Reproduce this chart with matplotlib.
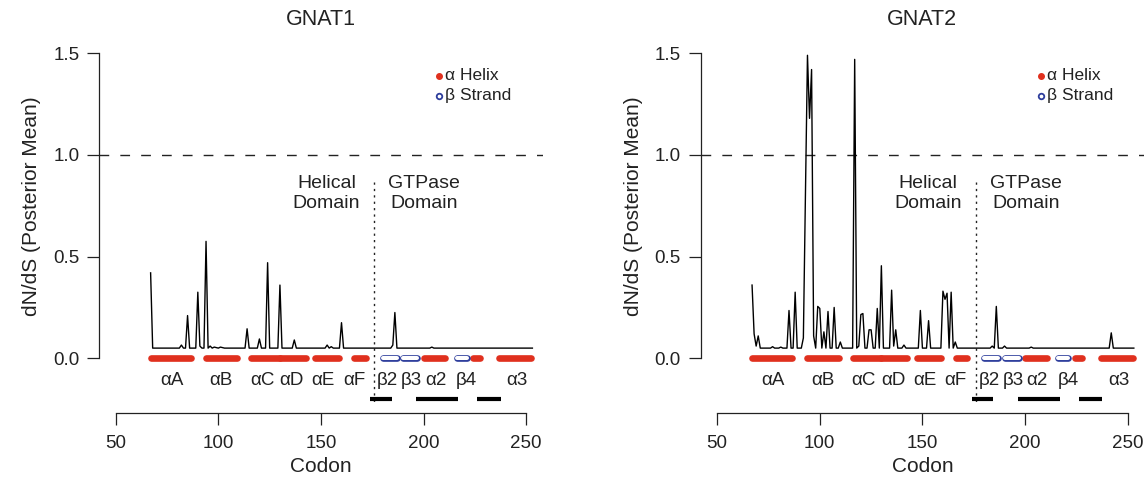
import matplotlib
matplotlib.use('Agg')
import matplotlib.pyplot as plt

plt.rcParams['font.family'] = ['Liberation Sans', 'DejaVu Sans']

# posterior mean dN/dS per codon (key points, baseline ~0.05)
gnat1_codon = [67, 68, 81, 82, 83, 84, 85, 86, 89, 90, 91, 92, 93, 94, 95, 96, 97, 98,
               100, 101, 103, 104, 113, 114, 115, 119, 120, 121, 123, 124, 125, 129, 130,
               131, 136, 137, 138, 152, 153, 154, 155, 156, 159, 160, 161, 184, 185, 186,
               187, 203, 204, 205, 253]
gnat1_dnds = [0.42, 0.05, 0.05, 0.065, 0.05, 0.05, 0.21, 0.05, 0.05, 0.325, 0.06, 0.05,
              0.05, 0.575, 0.05, 0.06, 0.05, 0.055, 0.05, 0.055, 0.05, 0.05, 0.05, 0.145,
              0.05, 0.05, 0.095, 0.05, 0.05, 0.47, 0.05, 0.05, 0.36, 0.05, 0.05, 0.09,
              0.05, 0.05, 0.065, 0.05, 0.057, 0.05, 0.05, 0.175, 0.05, 0.05, 0.065, 0.225,
              0.05, 0.05, 0.055, 0.05, 0.05]

gnat2_codon = [67, 68, 69, 70, 71, 76, 77, 78, 80, 81, 82, 84, 85, 86, 87, 88, 89, 91,
               92, 93, 94, 95, 96, 97, 98, 99, 100, 101, 102, 103, 104, 105, 106, 107, 108,
               109, 110, 111, 116, 117, 118, 119, 120, 121, 122, 123, 124, 125, 126, 127,
               128, 129, 130, 131, 134, 135, 136, 137, 138, 140, 141, 142, 148, 149, 150,
               152, 153, 154, 159, 160, 161, 162, 163, 164, 165, 166, 167, 183, 184, 185,
               186, 187, 189, 190, 191, 202, 203, 204, 241, 242, 243, 253]
gnat2_dnds = [0.36, 0.12, 0.06, 0.11, 0.05, 0.05, 0.057, 0.05, 0.05, 0.055, 0.05, 0.05,
              0.235, 0.05, 0.05, 0.325, 0.05, 0.05, 0.1, 0.8, 1.49, 1.18, 1.42, 0.11,
              0.05, 0.255, 0.245, 0.05, 0.13, 0.05, 0.23, 0.05, 0.05, 0.25, 0.05, 0.05,
              0.08, 0.05, 0.05, 1.47, 0.05, 0.06, 0.215, 0.22, 0.05, 0.05, 0.14, 0.14,
              0.05, 0.05, 0.245, 0.05, 0.455, 0.05, 0.05, 0.335, 0.06, 0.14, 0.05, 0.05,
              0.065, 0.05, 0.05, 0.235, 0.05, 0.05, 0.185, 0.05, 0.05, 0.33, 0.29, 0.32,
              0.05, 0.325, 0.05, 0.08, 0.05, 0.05, 0.06, 0.05, 0.255, 0.05, 0.05, 0.06,
              0.05, 0.05, 0.055, 0.05, 0.05, 0.125, 0.05, 0.05]

# secondary structure (codon ranges)
helix_start = [67.0, 94.0, 116.0, 130.0, 147.2, 166.2, 200.2, 224.3, 236.9]
helix_end = [86.5, 109.3, 130.0, 142.6, 159.0, 171.8, 210.5, 227.7, 252.5]
strand_start = [180.0, 190.2, 216.1]
strand_end = [186.9, 197.0, 221.0]

ss_labels = ['αA', 'αB', 'αC', 'αD', 'αE', 'αF', 'β2', 'β3', 'α2', 'β4', 'α3']
ss_label_pos = [77.3, 101.3, 121.4, 135.7, 151.1, 166.2, 182.5, 194.2, 206.0, 221.0, 245.6]

# black segments below the GTPase domain
seg_start = [174.0, 196.5, 226.1]
seg_end = [184.5, 216.9, 237.7]

domain_boundary = 176.0

RED = '#e0301e'
BLUE = '#2d3d9c'


def draw_panel(ax, title, codon, dnds):
    ax.set_xlim(42, 258)
    ax.set_ylim(-0.06, 1.56)

    for s in ['top', 'right']:
        ax.spines[s].set_visible(False)
    ax.spines['left'].set_bounds(0, 1.5)
    ax.spines['bottom'].set_bounds(50, 250)
    ax.spines['bottom'].set_position(('outward', 30.4))
    for s in ['left', 'bottom']:
        ax.spines[s].set_linewidth(0.9)
        ax.spines[s].set_color('#222222')

    ax.set_yticks([0, 0.5, 1.0, 1.5])
    ax.set_yticklabels(['0.0', '0.5', '1.0', '1.5'])
    ax.set_xticks([50, 100, 150, 200, 250])
    ax.tick_params(axis='both', length=8.8, width=0.9, color='#222222',
                   labelsize=13.5, labelcolor='#222222')
    ax.tick_params(axis='y', pad=5.5)
    ax.tick_params(axis='x', pad=7)

    ax.axhline(1.0, color='#222222', lw=1.0, ls=(0, (7, 8)), zorder=1)
    ax.plot(codon, dnds, color='black', lw=1.0, zorder=3)

    # domain divider
    ax.plot([domain_boundary, domain_boundary], [0.865, -0.23], color='#222222',
            lw=1.0, ls=(0, (1.6, 3.0)), clip_on=False, zorder=2)
    ax.text(152.6, 0.81, 'Helical\nDomain', ha='center', va='center', fontsize=14,
            color='#222222', linespacing=1.2)
    ax.text(200.3, 0.81, 'GTPase\nDomain', ha='center', va='center', fontsize=14,
            color='#222222', linespacing=1.2)

    # secondary structure
    for a, b in zip(helix_start, helix_end):
        ax.plot([a, b], [0, 0], color=RED, lw=4.8, solid_capstyle='round',
                clip_on=False, zorder=4)
    for a, b in zip(strand_start, strand_end):
        ax.plot([a, b], [0, 0], color=BLUE, lw=4.8, solid_capstyle='round',
                clip_on=False, zorder=5)
        ax.plot([a, b], [0, 0], color='white', lw=2.9, solid_capstyle='round',
                clip_on=False, zorder=6)
    for lab, x in zip(ss_labels, ss_label_pos):
        ax.text(x, -0.107, lab, ha='center', va='center', fontsize=13.5,
                color='#222222', clip_on=False)
    for a, b in zip(seg_start, seg_end):
        ax.plot([a, b], [-0.2, -0.2], color='black', lw=3.0, solid_capstyle='butt',
                clip_on=False)

    # legend
    ax.plot([207.7], [1.39], 'o', ms=4, color=RED, mec=RED)
    ax.plot([207.7], [1.292], 'o', ms=4, mfc='white', mec=BLUE, mew=1.3)
    ax.text(210.6, 1.39, 'α Helix', ha='left', va='center', fontsize=12.5, color='#222222')
    ax.text(210.6, 1.292, 'β Strand', ha='left', va='center', fontsize=12.5, color='#222222')

    ax.text(0.5, 1.064, title, transform=ax.transAxes, ha='center', va='center',
            fontsize=15.5, color='#222222')
    ax.text(0.5, -0.293, 'Codon', transform=ax.transAxes, ha='center', va='center',
            fontsize=15, color='#222222')
    ax.text(-0.152, 0.5, 'dN/dS (Posterior Mean)', transform=ax.transAxes, ha='center',
            va='center', rotation=90, fontsize=15, color='#222222')


fig = plt.figure(figsize=(11.48, 4.86), dpi=100)
ax1 = fig.add_axes([0.0865, 0.2377, 0.3862, 0.6778])
ax2 = fig.add_axes([0.6104, 0.2377, 0.3862, 0.6778])

draw_panel(ax1, 'GNAT1', gnat1_codon, gnat1_dnds)
draw_panel(ax2, 'GNAT2', gnat2_codon, gnat2_dnds)

fig.savefig('out.png', dpi=100)
